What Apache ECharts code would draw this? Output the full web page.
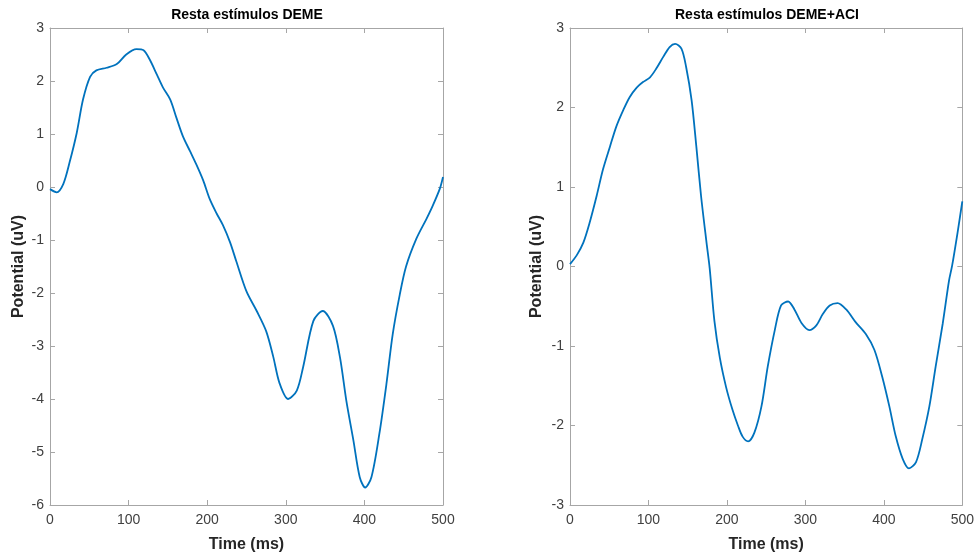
<!DOCTYPE html>
<html>
<head>
<meta charset="utf-8">
<script src="https://cdn.jsdelivr.net/npm/echarts@6/dist/echarts.min.js"></script>
<style>
html,body{margin:0;padding:0;background:#fff;}
#chart{width:977px;height:558px;}
</style>
</head>
<body>
<div id="chart"></div>
<script>
// ---- data ----
const titleLeft = 'Resta estímulos DEME';
const titleRight = 'Resta estímulos DEME+ACI';
const xLabel = 'Time (ms)';
const yLabel = 'Potential (uV)';

const demeTime = [0, 8.5, 17, 25, 34, 42, 51, 59, 72, 85, 97, 110, 119, 127, 136, 144, 153, 161, 169, 178, 186, 195, 203, 212, 220, 229, 237, 250, 263, 275, 284, 292, 303, 314, 322, 335, 347, 360, 369, 377, 386, 394, 401, 409, 419, 428, 436, 445, 453, 466, 479, 487, 496, 500];
const demeValue = [-0.04, -0.1, 0.06, 0.47, 1.02, 1.65, 2.08, 2.2, 2.25, 2.32, 2.5, 2.6, 2.58, 2.4, 2.12, 1.87, 1.65, 1.3, 0.96, 0.68, 0.43, 0.12, -0.22, -0.5, -0.72, -1.04, -1.4, -1.97, -2.34, -2.72, -3.2, -3.7, -4.0, -3.84, -3.4, -2.53, -2.34, -2.62, -3.22, -4.03, -4.78, -5.47, -5.67, -5.47, -4.66, -3.72, -2.78, -2.03, -1.5, -0.98, -0.6, -0.35, -0.03, 0.19];

const aciTime = [0, 8.5, 17, 25, 34, 42, 51, 59, 68, 76, 85, 93, 102, 110, 119, 127, 134, 142, 148, 155, 161, 167, 174, 178, 184, 191, 199, 207, 214, 220, 227, 235, 244, 252, 261, 269, 278, 286, 295, 305, 314, 322, 331, 341, 352, 364, 377, 388, 398, 407, 415, 424, 432, 441, 449, 458, 466, 475, 483, 487, 494, 500];
const aciValue = [0.03, 0.14, 0.3, 0.55, 0.89, 1.22, 1.51, 1.76, 1.97, 2.13, 2.25, 2.32, 2.38, 2.49, 2.64, 2.76, 2.8, 2.74, 2.51, 2.09, 1.51, 0.89, 0.3, -0.02, -0.68, -1.15, -1.52, -1.8, -2.0, -2.14, -2.2, -2.09, -1.76, -1.26, -0.8, -0.49, -0.44, -0.54, -0.71, -0.8, -0.74, -0.6, -0.49, -0.46, -0.54, -0.7, -0.85, -1.05, -1.39, -1.76, -2.13, -2.42, -2.54, -2.46, -2.17, -1.76, -1.26, -0.72, -0.18, 0.01, 0.43, 0.82];

const xMin = 0, xMax = 500, xStep = 100;
const yLeftMin = -6, yLeftMax = 3;
const yRightMin = -3, yRightMax = 3;

// ---- chart ----
const FONT = 'Liberation Sans, Arial, Helvetica, sans-serif';
const axisColor = '#a6a6a6';
const labelColor = '#404040';
const lineColor = '#0072BD';

function zip(a, b){ return a.map((v,i)=>[v, b[i]]); }

function xAxes(gridIndex){
  return [
    {type:'value', gridIndex, min:xMin, max:xMax, interval:xStep, position:'bottom',
     name:xLabel, nameLocation:'middle', nameGap:32,
     nameTextStyle:{fontFamily:FONT, fontSize:16, fontWeight:'bold', color:'#262626'},
     axisLine:{show:true, onZero:false, lineStyle:{color:axisColor, width:1}},
     axisTick:{show:true, inside:true, length:5, lineStyle:{color:axisColor}},
     axisLabel:{fontFamily:FONT, fontSize:14, color:labelColor, margin:8},
     splitLine:{show:false}},
    {type:'value', gridIndex, min:xMin, max:xMax, interval:xStep, position:'top',
     axisLine:{show:true, onZero:false, lineStyle:{color:axisColor, width:1}},
     axisTick:{show:true, inside:true, length:5, lineStyle:{color:axisColor}},
     axisLabel:{show:false}, splitLine:{show:false}}
  ];
}
function yAxes(gridIndex, mn, mx, gap){
  return [
    {type:'value', gridIndex, min:mn, max:mx, interval:1, position:'left',
     name:yLabel, nameLocation:'middle', nameGap:gap, nameRotate:90,
     nameTextStyle:{fontFamily:FONT, fontSize:16, fontWeight:'bold', color:'#262626'},
     axisLine:{show:true, onZero:false, lineStyle:{color:axisColor, width:1}},
     axisTick:{show:true, inside:true, length:5, lineStyle:{color:axisColor}},
     axisLabel:{fontFamily:FONT, fontSize:14, color:labelColor, margin:6},
     splitLine:{show:false}},
    {type:'value', gridIndex, min:mn, max:mx, interval:1, position:'right',
     axisLine:{show:true, onZero:false, lineStyle:{color:axisColor, width:1}},
     axisTick:{show:true, inside:true, length:5, lineStyle:{color:axisColor}},
     axisLabel:{show:false}, splitLine:{show:false}}
  ];
}

const chart = echarts.init(document.getElementById('chart'), null, {renderer:'canvas'});
chart.setOption({
  backgroundColor:'#ffffff',
  animation:false,
  graphic:[
    {type:'text', x:247, y:15, style:{text:titleLeft, font:'bold 14px ' + FONT, fill:'#000', textAlign:'center', textVerticalAlign:'middle'}},
    {type:'text', x:767, y:15, style:{text:titleRight, font:'bold 14px ' + FONT, fill:'#000', textAlign:'center', textVerticalAlign:'middle'}}
  ],
  grid:[
    {left:50, top:28, width:393, height:481},
    {left:570, top:28, width:394, height:481}
  ],
  xAxis:[...xAxes(0), ...xAxes(1)],
  yAxis:[...yAxes(0, yLeftMin, yLeftMax, 23), ...yAxes(1, yRightMin, yRightMax, 25)],
  series:[
    {type:'line', xAxisIndex:0, yAxisIndex:0, data:zip(demeTime, demeValue), smooth:0.3, showSymbol:false,
     lineStyle:{color:lineColor, width:1.8}},
    {type:'line', xAxisIndex:2, yAxisIndex:2, data:zip(aciTime, aciValue), smooth:0.3, showSymbol:false,
     lineStyle:{color:lineColor, width:1.8}}
  ]
});
</script>
</body>
</html>
